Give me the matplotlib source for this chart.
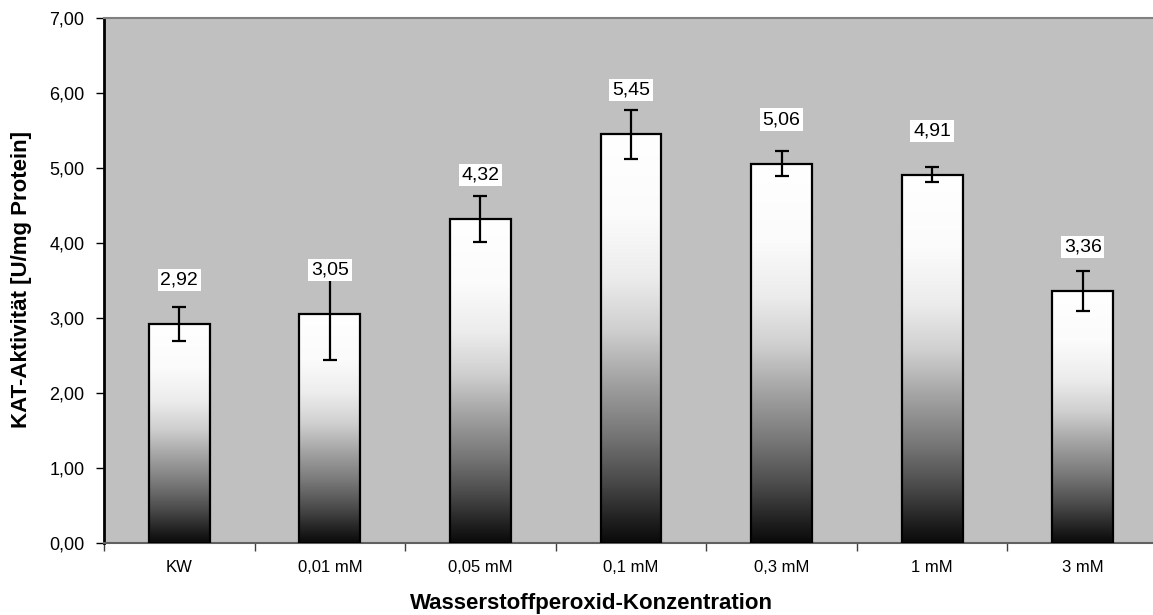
import numpy as np
import matplotlib
matplotlib.use("Agg")
import matplotlib.pyplot as plt
from matplotlib.colors import LinearSegmentedColormap
from matplotlib.ticker import FuncFormatter, FixedLocator

plt.rcParams['font.family'] = ['Liberation Sans', 'DejaVu Sans']

categories = ["KW", "0,01 mM", "0,05 mM", "0,1 mM", "0,3 mM", "1 mM", "3 mM"]
values = [2.92, 3.05, 4.32, 5.45, 5.06, 4.91, 3.36]
errors = [0.23, 0.61, 0.31, 0.33, 0.17, 0.10, 0.27]
value_labels = ["2,92", "3,05", "4,32", "5,45", "5,06", "4,91", "3,36"]

xlabel = "Wasserstoffperoxid-Konzentration"
ylabel = "KAT-Aktivität [U/mg Protein]"

# white at the top of each bar, fading to black at the bottom
grad = LinearSegmentedColormap.from_list("bar", [
    (0.00, "#ffffff"), (0.20, "#fbfbfb"), (0.35, "#ececec"), (0.48, "#cfcfcf"),
    (0.60, "#a4a4a4"), (0.73, "#787878"), (0.85, "#4a4a4a"), (0.95, "#1e1e1e"),
    (1.00, "#0a0a0a")])

fig = plt.figure(figsize=(11.53, 6.15), dpi=100)
ax = fig.add_axes([104 / 1153, 1 - 543 / 615, (1158 - 104) / 1153, (543 - 18) / 615])
ax.set_facecolor("#c0c0c0")

x = np.arange(len(categories))
width = 0.405
bars = ax.bar(x, values, width, color="none", edgecolor="black", linewidth=1.6, zorder=3)

img = np.linspace(0, 1, 256).reshape(-1, 1)
for b in bars:
    x0, y0 = b.get_x(), b.get_y()
    im = ax.imshow(img, cmap=grad, aspect="auto", zorder=2, origin="upper",
                   extent=[x0, x0 + b.get_width(), y0, y0 + b.get_height()],
                   interpolation="bilinear")
    im.set_clip_path(b)

ax.errorbar(x, values, yerr=errors, fmt="none", ecolor="black", elinewidth=1.6,
            capsize=5, capthick=1.6, zorder=4)

for xi, v, lab in zip(x, values, value_labels):
    ax.annotate(lab, xy=(xi, v), xytext=(0, 44), textcoords="offset pixels",
                ha="center", va="center", fontsize=14, zorder=5,
                bbox=dict(boxstyle="square,pad=0.14", fc="white", ec="none"))

ax.set_xlim(-0.5, len(categories) - 0.5)
ax.set_ylim(0, 7)

ax.set_yticks(np.arange(0, 8, 1))
ax.yaxis.set_major_formatter(FuncFormatter(lambda v, p: ("%.2f" % v).replace(".", ",")))
ax.tick_params(axis="y", direction="out", length=6, width=1, labelsize=13, pad=8)

ax.set_xticks(x)
ax.set_xticklabels(categories)
ax.tick_params(axis="x", which="major", length=0, labelsize=12, pad=12)
ax.xaxis.set_minor_locator(FixedLocator(np.arange(-0.5, len(categories), 1)))
ax.tick_params(axis="x", which="minor", direction="out", length=6, width=1, color="#404040")

ax.spines["left"].set_linewidth(2)
ax.spines["left"].set_color("black")
ax.spines["top"].set_color("#808080")
ax.spines["top"].set_linewidth(1.5)
ax.spines["bottom"].set_color("#606060")
ax.spines["bottom"].set_linewidth(1.5)
ax.spines["right"].set_visible(False)

fig.text(591 / 1153, 1 - 603 / 615, xlabel, ha="center", va="center",
         fontsize=16, fontweight="bold")
fig.text(22 / 1153, 1 - 280 / 615, ylabel, ha="center", va="center",
         rotation=90, fontsize=16, fontweight="bold")

fig.savefig("out.png", dpi=100)
